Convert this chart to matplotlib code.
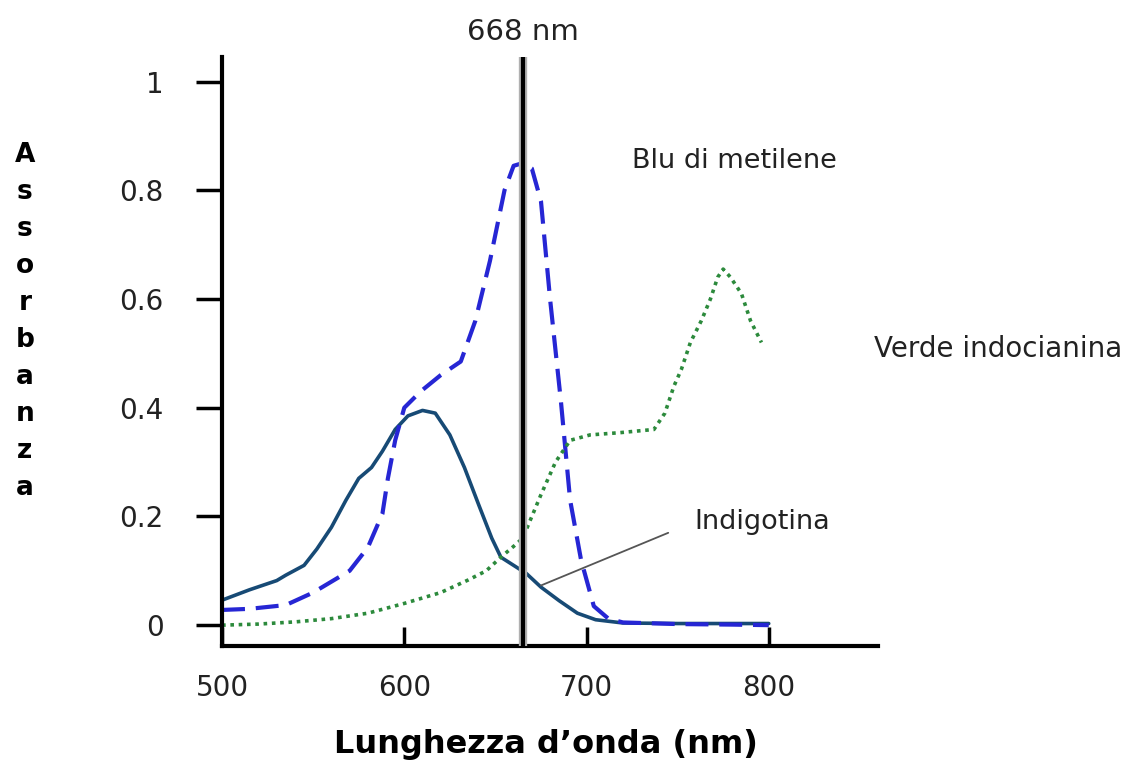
import matplotlib
matplotlib.use("Agg")
import matplotlib.pyplot as plt

plt.rcParams['font.family'] = ['DejaVu Sans']

# DATA
wl_indigo = [500, 515, 530, 535, 545, 552, 560, 568, 575, 582, 588, 595, 602, 610, 617,
             625, 633, 641, 648, 653, 660, 667, 675, 685, 695, 705, 720, 750, 780, 800]
abs_indigo = [0.046, 0.065, 0.082, 0.092, 0.11, 0.14, 0.18, 0.23, 0.27, 0.29, 0.32, 0.36, 0.385, 0.395, 0.39,
              0.35, 0.29, 0.22, 0.16, 0.125, 0.11, 0.095, 0.07, 0.045, 0.022, 0.01, 0.004, 0.003, 0.003, 0.003]

wl_blu = [500, 515, 535, 550, 560, 570, 580, 588, 591, 595, 600, 609, 620, 631, 639, 647, 655,
          660, 665, 670, 675, 680, 686, 691, 697, 704, 712, 720, 750, 780, 800]
abs_blu = [0.028, 0.03, 0.037, 0.06, 0.08, 0.10, 0.143, 0.205, 0.27, 0.34, 0.40, 0.43, 0.46, 0.485, 0.56, 0.67, 0.80,
           0.845, 0.85, 0.84, 0.78, 0.60, 0.41, 0.23, 0.12, 0.035, 0.012, 0.005, 0.002, 0.001, 0.0]

wl_verde = [500, 520, 540, 560, 580, 600, 620, 635, 645, 653, 660, 665, 670, 675, 683, 691, 702, 718,
            737, 743, 748, 752, 757, 763, 768, 772, 775, 779, 785, 790, 796]
abs_verde = [0.0, 0.002, 0.006, 0.012, 0.022, 0.04, 0.06, 0.083, 0.10, 0.125, 0.145, 0.16, 0.2, 0.24, 0.30, 0.34, 0.35, 0.354,
             0.36, 0.39, 0.44, 0.47, 0.52, 0.56, 0.60, 0.64, 0.655, 0.64, 0.61, 0.56, 0.52]

LINE_NM = 665
x_ticks = [500, 600, 700, 800]
y_ticks = [0, 0.2, 0.4, 0.6, 0.8, 1]
y_labels = ['0', '0.2', '0.4', '0.6', '0.8', '1']

fig = plt.figure(figsize=(11.33, 7.61), dpi=100)
ax = fig.add_axes([0.196, 0.151, 0.579, 0.774])

ax.plot(wl_indigo, abs_indigo, color='#174a75', linewidth=2.6, solid_capstyle='round')
ax.plot(wl_blu, abs_blu, color='#2626d4', linewidth=3.0, dashes=(5.5, 2.6))
ax.plot(wl_verde, abs_verde, color='#2c8a3c', linewidth=2.6, dashes=(1, 1.3))

ax.axvline(LINE_NM, color='#b0b0b0', linewidth=6, zorder=4)
ax.axvline(LINE_NM, color='black', linewidth=3, zorder=5)

ax.set_xlim(500, 860)
ax.set_ylim(-0.0385, 1.045)

for s in ['top', 'right']:
    ax.spines[s].set_visible(False)
for s in ['left', 'bottom']:
    ax.spines[s].set_linewidth(3)

ax.set_xticks(x_ticks)
ax.set_yticks(y_ticks)
ax.set_yticklabels(y_labels)
ax.tick_params(axis='x', direction='in', length=14, width=2.5, pad=20, labelsize=20, colors='black')
ax.tick_params(axis='y', direction='out', length=19, width=2.5, pad=23, labelsize=20)
for lab in ax.get_xticklabels() + ax.get_yticklabels():
    lab.set_color('#222222')

# annotations
ax.text(LINE_NM, 1.065, '668 nm', ha='center', va='bottom', fontsize=21, color='#222222', clip_on=False)
ax.text(725, 0.853, 'Blu di metilene', ha='left', va='center', fontsize=19.5, color='#222222')
ax.text(858, 0.508, 'Verde indocianina', ha='left', va='center', fontsize=20, color='#222222', clip_on=False)
ax.annotate('Indigotina', xy=(675, 0.073), xytext=(759, 0.189), ha='left', va='center', fontsize=19.5,
            color='#222222',
            arrowprops=dict(arrowstyle='-', color='#555555', linewidth=1.3,
                            shrinkA=0, shrinkB=0, relpos=(-0.19, 0.1)))

fig.text(0.482, 0.022, "Lunghezza d’onda (nm)", ha='center', va='center', fontsize=23, fontweight='bold')
fig.text(0.022, 0.578, '\n'.join('Assorbanza'), ha='center', va='center', fontsize=19,
         fontweight='bold', linespacing=1.55)

fig.savefig('out.png', dpi=100)
